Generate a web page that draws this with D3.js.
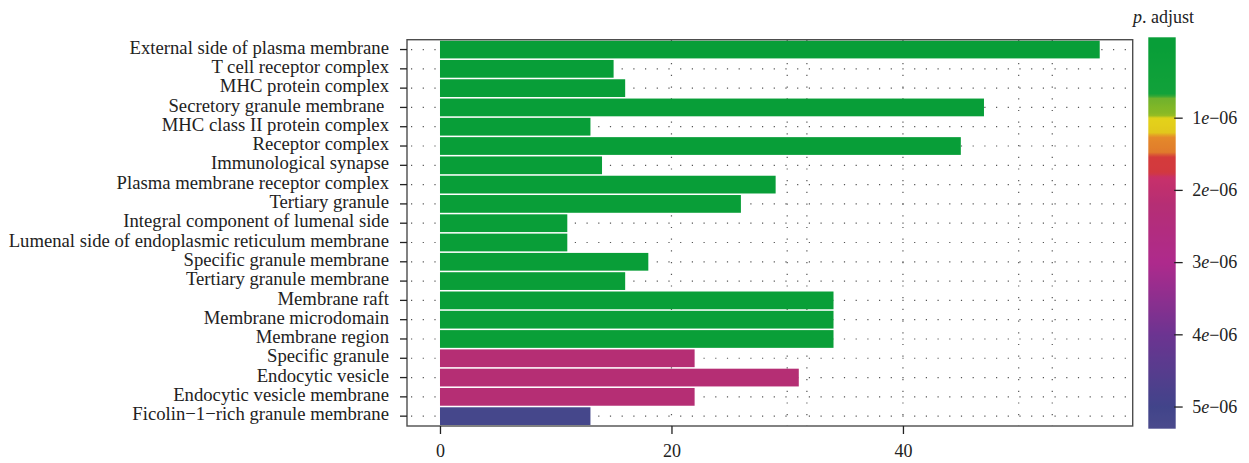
<!DOCTYPE html>
<html>
<head>
<meta charset="utf-8">
<script src="https://cdn.jsdelivr.net/npm/d3@7"></script>
<style>
  body { margin: 0; background: #fff; }
  svg { display: block; font-family: "Liberation Serif", "Times New Roman", serif; }
</style>
</head>
<body>
<svg id="chart" width="1249" height="463"></svg>
<script>
// GO cellular component terms, top to bottom
const terms = [
  "External side of plasma membrane",
  "T cell receptor complex",
  "MHC protein complex",
  "Secretory granule membrane ",
  "MHC class II protein complex",
  "Receptor complex",
  "Immunological synapse",
  "Plasma membrane receptor complex",
  "Tertiary granule",
  "Integral component of lumenal side",
  "Lumenal side of endoplasmic reticulum membrane",
  "Specific granule membrane",
  "Tertiary granule membrane",
  "Membrane raft",
  "Membrane microdomain",
  "Membrane region",
  "Specific granule",
  "Endocytic vesicle",
  "Endocytic vesicle membrane",
  "Ficolin\u22121\u2212rich granule membrane"
];
const counts = [57, 15, 16, 47, 13, 45, 14, 29, 26, 11, 11, 18, 16, 34, 34, 34, 22, 31, 22, 13];
const pAdjust = [
  1.2e-9, 4.0e-9, 6.1e-9, 8.5e-9, 1.1e-8, 1.4e-8, 2.2e-8, 3.0e-8, 3.9e-8, 5.0e-8,
  5.0e-8, 6.6e-8, 8.0e-8, 9.4e-8, 1.1e-7, 1.3e-7, 2.2e-6, 2.2e-6, 2.2e-6, 5.15e-6
];

// colour bar of p.adjust
const colorStops = [0, 0.68e-6, 0.72e-6, 0.96e-6, 1.0e-6, 1.2e-6, 1.26e-6, 1.48e-6, 1.53e-6, 1.76e-6, 1.82e-6, 2.2e-6, 3.0e-6, 4.0e-6, 5.0e-6, 5.3e-6];
const colorValues = ["#089E38", "#12A23A", "#6FB22C", "#8DBA24", "#E3D31A", "#E2C81C", "#E58A2A", "#E07A2C", "#D43B3B", "#D2383F", "#C8306A", "#B52E74", "#AE2A8C", "#6C3491", "#41448A", "#4A4A8C"];
const legendLimits = [-0.12e-6, 5.3e-6];
const legendTicks = [1e-6, 2e-6, 3e-6, 4e-6, 5e-6];
const legendTickLabels = ["1", "2", "3", "4", "5"];

const xTicks = [0, 20, 40];
const xGrid = [20, 30, 31.7, 40, 50, 52.9];

const FONT_SIZE = 18;
const Y_FONT_SIZE = 18.7;
const AXIS_COL = "#4d4d4d";
const PANEL = { left: 407, right: 1132.7, top: 39.7, bottom: 426 };

const svg = d3.select("#chart");

const color = d3.scaleLinear().domain(colorStops).range(colorValues).clamp(true);

const xMax = d3.max(counts);
const x = d3.scaleLinear()
  .domain([-xMax * 0.05, xMax * 1.05])
  .range([PANEL.left, PANEL.right]);

const y = d3.scaleBand()
  .domain(terms)
  .range([PANEL.top, PANEL.bottom])
  .paddingInner(0.08)
  .paddingOuter(0.05);

const data = terms.map((t, i) => ({ term: t, count: counts[i], p: pAdjust[i] }));

// dotted grid
const gGrid = svg.append("g");
gGrid.selectAll("line.h")
  .data(terms)
  .join("line")
  .attr("x1", PANEL.left).attr("x2", PANEL.right)
  .attr("y1", d => y(d) + y.bandwidth() / 2)
  .attr("y2", d => y(d) + y.bandwidth() / 2)
  .attr("stroke", "#555")
  .attr("stroke-width", 1.2)
  .attr("stroke-dasharray", "1.2,10.5")
  .attr("stroke-dashoffset", -4);

gGrid.selectAll("line.v")
  .data(xGrid)
  .join("line")
  .attr("x1", d => x(d)).attr("x2", d => x(d))
  .attr("y1", PANEL.top).attr("y2", PANEL.bottom)
  .attr("stroke", "#555")
  .attr("stroke-width", 1.2)
  .attr("stroke-dasharray", "1.2,10.5");

// bars
svg.append("g")
  .selectAll("rect")
  .data(data)
  .join("rect")
  .attr("x", x(0))
  .attr("y", d => y(d.term))
  .attr("width", d => x(d.count) - x(0))
  .attr("height", y.bandwidth())
  .attr("fill", d => color(d.p));

// panel border
svg.append("rect")
  .attr("x", PANEL.left).attr("y", PANEL.top)
  .attr("width", PANEL.right - PANEL.left)
  .attr("height", PANEL.bottom - PANEL.top)
  .attr("fill", "none")
  .attr("stroke", AXIS_COL)
  .attr("stroke-width", 1.4);

// axes
const axisY = d3.axisLeft(y).tickSize(7).tickPadding(11);
const gy = svg.append("g")
  .attr("transform", `translate(${PANEL.left},0)`)
  .call(axisY);
gy.select(".domain").remove();
gy.selectAll("line").attr("stroke", "#222").attr("stroke-width", 1.3);
gy.selectAll("text")
  .attr("dy", "0.22em")
  .style("white-space", "pre")
  .attr("font-family", "Liberation Serif, serif")
  .attr("font-size", Y_FONT_SIZE)
  .attr("fill", "#222");

const axisX = d3.axisBottom(x).tickValues(xTicks).tickFormat(d3.format("d")).tickSize(8).tickPadding(10);
const gx = svg.append("g")
  .attr("transform", `translate(0,${PANEL.bottom})`)
  .call(axisX);
gx.select(".domain").remove();
gx.selectAll("line").attr("stroke", "#222").attr("stroke-width", 1.3);
gx.selectAll("text")
  .attr("font-family", "Liberation Serif, serif")
  .attr("font-size", FONT_SIZE)
  .attr("fill", "#222");

// legend
const LEG = { x: 1148.3, w: 27.4, top: 37.3, bottom: 428.7 };
const ly = d3.scaleLinear().domain(legendLimits).range([LEG.top, LEG.bottom]);

const grad = svg.append("defs").append("linearGradient")
  .attr("id", "pgrad")
  .attr("x1", 0).attr("x2", 0).attr("y1", 0).attr("y2", 1);
const samples = d3.range(0, 161).map(i => legendLimits[0] + (legendLimits[1] - legendLimits[0]) * i / 160);
grad.selectAll("stop")
  .data(samples)
  .join("stop")
  .attr("offset", d => (ly(d) - LEG.top) / (LEG.bottom - LEG.top))
  .attr("stop-color", d => color(d));

const gLeg = svg.append("g");
gLeg.append("rect")
  .attr("x", LEG.x).attr("y", LEG.top)
  .attr("width", LEG.w).attr("height", LEG.bottom - LEG.top)
  .attr("fill", "url(#pgrad)");

gLeg.selectAll("line.tick")
  .data(legendTicks)
  .join("line")
  .attr("x1", LEG.x + LEG.w - 1.5).attr("x2", LEG.x + LEG.w + 7)
  .attr("y1", d => ly(d)).attr("y2", d => ly(d))
  .attr("stroke", "#222")
  .attr("stroke-width", 1.3);

const labs = gLeg.selectAll("text.lab")
  .data(legendTicks)
  .join("text")
  .attr("x", LEG.x + LEG.w + 16.5)
  .attr("y", d => ly(d))
  .attr("dy", "0.32em")
  .attr("font-size", FONT_SIZE)
  .attr("fill", "#222");
labs.append("tspan").text((d, i) => legendTickLabels[i]);
labs.append("tspan").attr("font-style", "italic").text("e");
labs.append("tspan").text("\u221206");

const title = gLeg.append("text")
  .attr("x", 1133).attr("y", 23.3)
  .attr("font-size", FONT_SIZE)
  .attr("fill", "#222");
title.append("tspan").attr("font-style", "italic").text("p");
title.append("tspan").text(". adjust");
</script>
</body>
</html>
